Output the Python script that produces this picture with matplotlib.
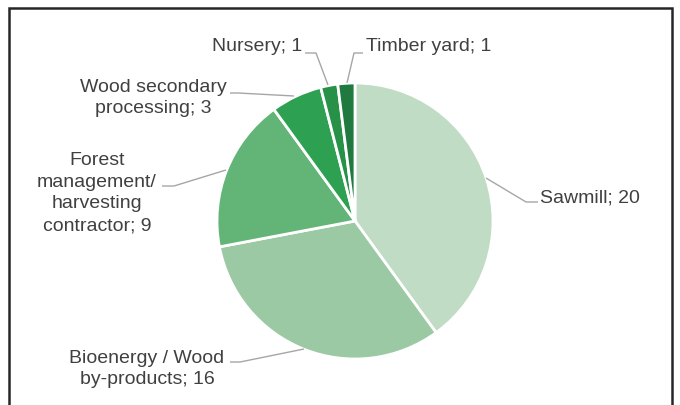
import matplotlib.pyplot as plt
from matplotlib.patches import Rectangle

# data
labels = ['Sawmill', 'Bioenergy / Wood\nby-products', 'Forest\nmanagement/\nharvesting\ncontractor',
          'Wood secondary\nprocessing', 'Nursery', 'Timber yard']
values = [20, 16, 9, 3, 1, 1]
colors = ['#c0dcc4', '#9ac9a3', '#63b577', '#2da051', '#279148', '#207a3f']

W, H = 680, 406
CX, CY, R = 355, 222, 138  # pie centre / radius in pixels


def px(x, y):
    # pixel position -> data coords (pie radius = 1)
    return (x - CX) / R, (CY - y) / R


# label text position (px), alignment, leader line points (px)
label_pos = [
    ((540, 198), 'left', [(538, 203), (526, 203), (486, 179)]),
    ((147, 369), 'center', [(230, 363), (240, 363), (304, 350)]),
    ((97, 193), 'center', [(162, 187), (174, 187), (226, 171)]),
    ((153, 98), 'center', [(230, 94), (238, 94), (294, 97)]),
    ((302, 47), 'right', [(305, 54), (316, 54), (328, 86)]),
    ((366, 47), 'left', [(363, 54), (354, 54), (347, 84)]),
]

plt.rcParams['font.family'] = ['Liberation Sans', 'DejaVu Sans']

fig = plt.figure(figsize=(W / 100, H / 100), dpi=100)
ax = fig.add_axes([0, 0, 1, 1])

ax.pie(values, colors=colors, startangle=90, counterclock=False, radius=1,
       wedgeprops=dict(edgecolor='white', linewidth=2.0))

for lab, v, (tp, ha, leader) in zip(labels, values, label_pos):
    xs, ys = zip(*[px(*p) for p in leader])
    ax.plot(xs, ys, color='#a6a6a6', lw=1.0, solid_capstyle='butt')
    tx, ty = px(*tp)
    ax.text(tx, ty, f'{lab}; {v}', ha=ha, va='center', fontsize=14,
            color='#404040', linespacing=1.38)

x0, _ = px(0, 0)
x1, _ = px(W, 0)
_, y0 = px(0, H)
_, y1 = px(0, 0)
ax.set_xlim(x0, x1)
ax.set_ylim(y0, y1)
ax.set_aspect('auto')
ax.axis('off')

# outer chart frame (bottom edge is cut off in the reference)
fig.patches.append(Rectangle((9 / W, -0.05), (672 - 9) / W, 1.05 - 9 / H,
                             transform=fig.transFigure, fill=False,
                             edgecolor='#262626', linewidth=1.8))

fig.savefig('out.png', dpi=100)
